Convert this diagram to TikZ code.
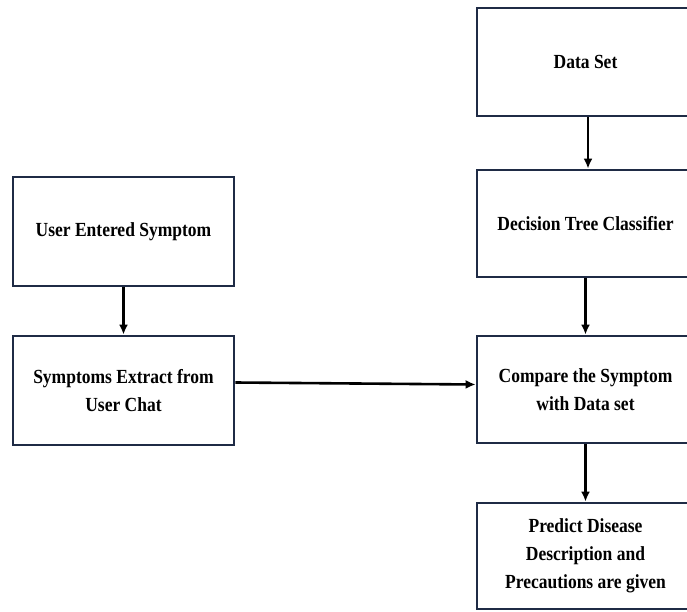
\documentclass[tikz,border=0pt]{standalone}
\usepackage{fontspec}
\setmainfont{Liberation Serif}[FakeStretch=0.875]
\usetikzlibrary{arrows.meta}
\definecolor{boxline}{HTML}{1F2B45}
\tikzset{
  flowbox/.style={draw=boxline, line width=2.8pt, fill=white, align=center,
    minimum width=217pt, minimum height=107pt, inner sep=0pt,
    font=\bfseries\fontsize{20}{28}\selectfont},
  flowarrow/.style={line width=2.6pt, draw=black, -{Latex[length=10pt,width=9pt]}}
}
\begin{document}
\begin{tikzpicture}[x=1pt,y=1pt]
\useasboundingbox (0,0) rectangle (687,611);
\clip (0,0) rectangle (687,611);
\fill[white] (0,0) rectangle (687,611);
\node[flowbox, minimum height=108pt] (ds) at (585.5,549) {Data Set};
\node[flowbox] (dtc) at (585.5,387.5) {Decision Tree Classifier};
\node[flowbox] (cmp) at (585.5,221.5) {Compare the Symptom\\with Data set};
\node[flowbox, minimum height=106pt] (pred) at (585.5,55) {Predict Disease\\Description and\\Precautions are given};
\node[flowbox, minimum width=221pt, minimum height=109pt] (ues) at (123.5,379.5) {User Entered Symptom};
\node[flowbox, minimum width=221pt, minimum height=109pt] (sym) at (123.5,220.5) {Symptoms Extract from\\User Chat};
\draw[flowarrow] ([xshift=2.5pt]ds.south) -- ([xshift=2.5pt]dtc.north);
\draw[flowarrow] (dtc) -- (cmp);
\draw[flowarrow] (cmp) -- (pred);
\draw[flowarrow] (ues) -- (sym);
\draw[flowarrow] ([yshift=8pt]sym.east) -- ([yshift=5pt]cmp.west);
\end{tikzpicture}
\end{document}
